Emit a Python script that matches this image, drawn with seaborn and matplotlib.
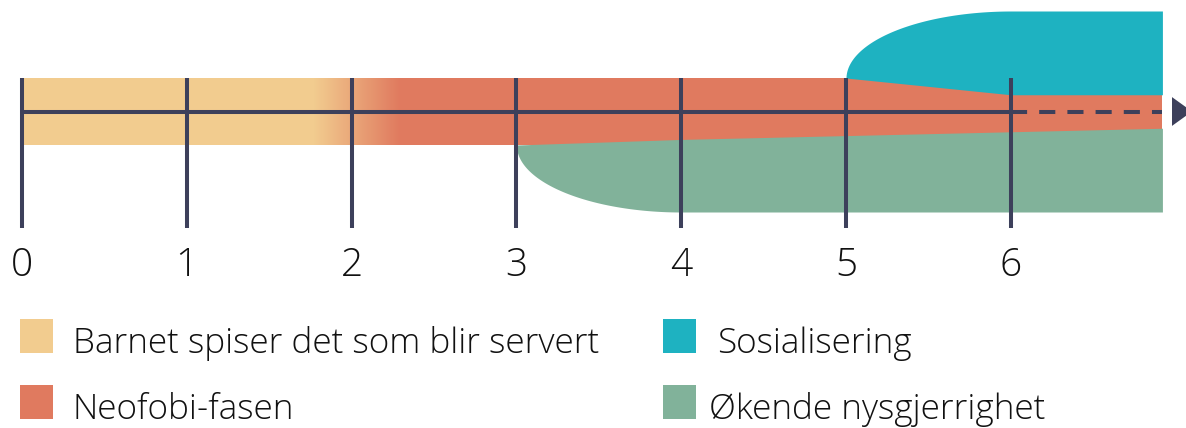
import numpy as np
import pandas as pd
import seaborn as sns
import matplotlib.pyplot as plt
from matplotlib.patches import Rectangle, Polygon
from matplotlib.colors import LinearSegmentedColormap

# ---------------- data ----------------
ages = [0, 1, 2, 3, 4, 5, 6]
tick_labels = ["0", "1", "2", "3", "4", "5", "6"]
phase_labels = ["Barnet spiser det som blir servert", "Neofobi-fasen",
                "Sosialisering", "Økende nysgjerrighet"]
phase_colors = ["#F2CC8F", "#E07A5F", "#1EB2C1", "#81B29A"]
line_color = "#3D405B"
timeline_end = 6.92          # where the coloured bands stop (years)
gradient_span = [1.77, 2.29] # yellow -> orange transition (years)
social_start, social_full = 5, 6
curious_start, curious_full = 3, 4
band_half = 1.0     # half height of the main band
outer_half = 3.0    # outer edge of socialisation / curiosity areas
narrow_half = 0.5   # neofobia band half height at age 6

# ---------------- figure ----------------
sns.set_theme(style="white")
plt.rcParams['font.family'] = ['Open Sans', 'DejaVu Sans']

W, H = 1186, 428
fig = plt.figure(figsize=(W / 100, H / 100), dpi=100)
ax = fig.add_axes([0, 0, 1, 1])
pxu = 164.8   # pixels per year
pyu = 33.5    # pixels per y-unit
x0px, y0px = 22, 111.5
ax.set_xlim(-x0px / pxu, (W - x0px) / pxu)
ax.set_ylim(-(H - y0px) / pyu, y0px / pyu)
ax.axis('off')

def neo_top(x):
    return np.interp(x, [0, social_start, social_full, timeline_end],
                     [band_half, band_half, narrow_half, narrow_half])

def neo_bot(x):
    return np.interp(x, [0, curious_start, social_full, timeline_end],
                     [-band_half, -band_half, -narrow_half, -narrow_half])

# full neofobia band (base)
ax.fill_between([0, timeline_end], [-band_half] * 2, [band_half] * 2,
                color=phase_colors[1], lw=0, zorder=1)
# yellow phase
ax.fill_between([0, gradient_span[0] + 0.01], [-band_half] * 2, [band_half] * 2,
                color=phase_colors[0], lw=0, zorder=2)
# gradient
cmap = LinearSegmentedColormap.from_list("yo", phase_colors[:2])
grad = np.linspace(0, 1, 256)[None, :]
ax.imshow(grad, cmap=cmap, aspect='auto', interpolation='bilinear',
          extent=[gradient_span[0], gradient_span[1], -band_half, band_half], zorder=2)

# socialisation (teal)
t = np.linspace(0, np.pi / 2, 200)
xt = np.concatenate([social_full - (social_full - social_start) * np.cos(t), [timeline_end]])
yt = np.concatenate([band_half + (outer_half - band_half) * np.sin(t), [outer_half]])
ax.fill_between(xt, neo_top(xt), yt, color=phase_colors[2], lw=0, zorder=3)

# curiosity (green)
xg = np.concatenate([curious_full - (curious_full - curious_start) * np.cos(t), [timeline_end]])
yg = np.concatenate([-band_half - (outer_half - band_half) * np.sin(t), [-outer_half]])
ax.fill_between(xg, yg, neo_bot(xg), color=phase_colors[3], lw=0, zorder=3)

# timeline
lw = 2.9
solid = pd.DataFrame({"x": [ages[0], ages[-1]], "y": [0, 0]})
sns.lineplot(data=solid, x="x", y="y", ax=ax, color=line_color, lw=lw,
             solid_capstyle='butt', legend=False, zorder=5)
ax.plot([ages[-1], timeline_end], [0, 0], color=line_color, lw=lw,
        linestyle=(0, (4, 3)), dash_capstyle='butt', zorder=5)
ax.add_patch(Polygon([[(1172 - x0px) / pxu, 0.43], [(1172 - x0px) / pxu, -0.43],
                      [(1192 - x0px) / pxu, 0]], closed=True, color=line_color, lw=0, zorder=5))

# ticks
for a, lab in zip(ages, tick_labels):
    ax.plot([a, a], [band_half, -3.48], color=line_color, lw=lw,
            solid_capstyle='butt', zorder=5)
    ax.text(a, -4.6, lab, ha='center', va='center', fontsize=28,
            fontweight='light', color='#111111')

# legend (manual)
def fx(p):
    return p / W

def fy(p):
    return 1 - p / H

sq = [(20, 319), (20, 385), (663, 319), (663, 385)]
tx = [73, 73, 717, 709]
for (sx, sy), x, lab, col in zip(sq, tx, phase_labels, phase_colors):
    fig.patches.append(Rectangle((fx(sx), fy(sy + 34)), 33 / W, 34 / H,
                                 transform=fig.transFigure, color=col, lw=0))
    fig.text(fx(x), fy(sy + 34), lab, ha='left', va='baseline', fontsize=25.3,
             fontweight='light', color='#111111')

fig.savefig("out.png", dpi=100)
